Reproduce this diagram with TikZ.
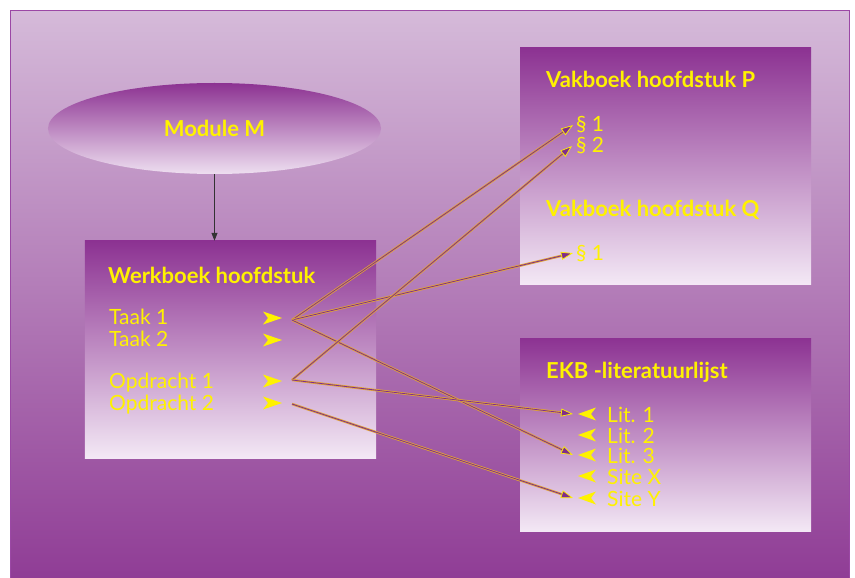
\documentclass[tikz,border=0pt]{standalone}
\usepackage{fontspec}
\setmainfont{Lato}
\usepackage{xcolor}
\usetikzlibrary{
	shapes.geometric,
	arrows.meta, % for nice-looking arrows
	positioning
	}

\definecolor{bgtop}{RGB}{213,186,217}
\definecolor{bgbot}{RGB}{141,56,147}
\definecolor{boxtop}{RGB}{140,50,146}
\definecolor{boxbot}{RGB}{243,232,245}
\definecolor{framepurple}{RGB}{155,72,165}
\definecolor{txtyellow}{RGB}{255,242,0}
\definecolor{linkorange}{RGB}{225,165,55}
\definecolor{linkpurple}{RGB}{128,46,138}

\begin{document}
\begin{tikzpicture}[
                x=1bp,y=-1bp,
                box/.style={rectangle,inner sep=0pt,top color=boxtop,bottom color=boxbot,minimum width=291bp},
                title/.style={anchor=base west,inner sep=0pt,text=txtyellow,font=\fontsize{22bp}{26bp}\selectfont\bfseries},
                item/.style={anchor=base west,inner sep=0pt,text=txtyellow,font=\fontsize{21bp}{25bp}\selectfont},
                dart/.style={fill=txtyellow},
                feed/.style={draw=black!80,line width=0.9bp,-{Triangle[length=8bp,width=6bp]}},
                link/.style={draw=linkpurple,line width=0.8bp,
                    -{Triangle[length=12bp,width=8bp,color=txtyellow,fill=linkpurple,line width=0.7bp]},
                    preaction={draw=linkorange,line width=2.4bp,-,shorten >=6bp}},
            ]

                \def\dw{19}
                \def\dh{6.5}
                \def\dn{5}

                \useasboundingbox (0,0) rectangle (855,578);

                % Background
                \shade[top color=bgtop,bottom color=bgbot] (10,11) rectangle (849,600);
                \draw[framepurple,line width=1bp] (10,600) -- (10,11) -- (849,11) -- (849,600);

                % Module
                \node[ellipse,inner sep=0pt,minimum width=333bp,minimum height=91bp,
                      top color=boxtop,bottom color=boxbot!95!boxtop,
                      text=txtyellow,font=\fontsize{22bp}{26bp}\selectfont\bfseries] (mod) at (214.5,128.5) {Module M};

                % Boxes
                \node[box,minimum height=217bp] (werk) at (230.5,349.5) {};
                \node[box,minimum height=236bp] (vak) at (665.5,166) {};
                \node[box,minimum height=193bp] (ekb) at (665.5,434.5) {};

                \draw[feed] (mod.south) -- (mod.south |- werk.north);

                %% Werkboek
                \node[title] (werkT) at (108,283) {Werkboek hoofdstuk};
                \node[item] (taak1) at (109,324) {Taak 1};
                \node[item] (taak2) at (109,346) {Taak 2};
                \node[item] (opd1) at (109,388) {Opdracht 1};
                \node[item] (opd2) at (109,410) {Opdracht 2};
                \foreach \n/\y in {tk1/318,tk2/340,od1/381,od2/403}{
                    \coordinate (\n) at (282,\y);
                    \fill[dart] (\n) -- ++(-\dw,-\dh) -- ++(\dn,\dh) -- ++(-\dn,\dh) -- cycle;
                }

                %% Vakboek
                \node[title] (vakP) at (546,88) {Vakboek hoofdstuk P};
                \node[item] (p1) at (576,132) {§ 1};
                \node[item] (p2) at (576,153) {§ 2};
                \node[title] (vakQ) at (546,217) {Vakboek hoofdstuk Q};
                \node[item] (q1) at (576,260) {§ 1};

                %% EKB
                \node[title] (ekbT) at (546,378) {EKB -literatuurlijst};
                \foreach \n/\y/\t in {l1/422/Lit. 1,l2/443/Lit. 2,l3/463/Lit. 3,l4/484/Site X,l5/506/Site Y}{
                    \node[item] (\n) at (607,\y) {\t};
                    \coordinate (\n m) at (578,\y-8);
                    \fill[dart] (\n m) -- ++(\dw-1,-\dh) -- ++(-\dn,\dh) -- ++(\dn,\dh) -- cycle;
                }

                % Links
                \coordinate (out1) at ([shift={(10bp,-2bp)}]tk1);
                \coordinate (out3) at ([shift={(10bp,1bp)}]od1);
                \coordinate (out4) at ([shift={(10bp,-1bp)}]od2);

                \draw[link] (out1) -- ([xshift=-3bp]p1.west);
                \draw[link] (out1) -- ([xshift=-3bp]q1.west);
                \draw[link] (out1) -- ([xshift=-5bp]l3m);
                \draw[link] (out3) -- ([xshift=-4bp]p2.west);
                \draw[link] (out3) -- ([xshift=-5bp]l1m);
                \draw[link] (out4) -- ([xshift=-5bp]l5m);

            \end{tikzpicture}
\end{document}
